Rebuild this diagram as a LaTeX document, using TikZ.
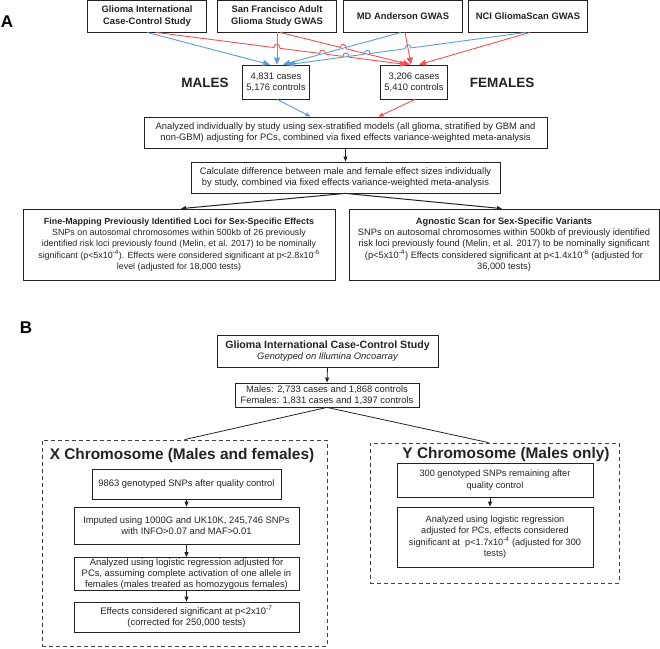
\documentclass[tikz,border=0pt]{standalone}
\usepackage{fontspec}
\setmainfont{Liberation Sans}
\usetikzlibrary{arrows.meta,calc}
\definecolor{mblue}{RGB}{94,156,214}
\definecolor{fred}{RGB}{240,84,84}
\definecolor{ink}{RGB}{35,35,35}
\begin{document}
\begin{tikzpicture}[x=1pt,y=-1pt,
box/.style={draw=ink,line width=0.8pt,inner sep=0pt,align=center,text=ink,font=\fontsize{9.4}{11}\selectfont},
srcbox/.style={box,minimum width=119pt,minimum height=32pt,font=\fontsize{9.4}{11.5}\selectfont\bfseries},
dashbox/.style={draw=ink!85,line width=0.8pt,dash pattern=on 4pt off 3pt,inner sep=0pt},
bigtxt/.style={text=ink,font=\fontsize{13.5}{14}\selectfont\bfseries},
chrtxt/.style={text=ink,font=\fontsize{15.4}{16}\selectfont\bfseries},
panel/.style={text=black,font=\fontsize{17}{18}\selectfont\bfseries},
bline/.style={mblue,line width=0.9pt},
rline/.style={fred,line width=0.9pt},
ctip/.style={-{Triangle[length=7pt,width=6pt]}},
stip/.style={-{Triangle[length=5pt,width=4pt]}},
ktip/.style={ink,line width=0.8pt,-{Triangle[length=5pt,width=4pt]}}]
\useasboundingbox (0,0) rectangle (660,648);
\def\khop{5}
% panel A
\node[panel] (pa) at (7,22) {A};
\foreach \n/\x/\t in {gicc/147/{Glioma International\\Case-Control Study},sfag/277/{San Francisco Adult\\Glioma Study GWAS},mda/403/{MD Anderson GWAS},nci/528/{NCI GliomaScan GWAS}}{\node[srcbox] (\n) at (\x,16) {\t};}
\node[box,minimum width=67pt,minimum height=34pt] (mal) at (276,82) {4,831 cases\\5,176 controls};
\node[box,minimum width=67pt,minimum height=34pt] (fem) at (414,82) {3,206 cases\\5,410 controls};
\node[bigtxt] (mtxt) at (205,83) {MALES};
\node[bigtxt] (ftxt) at (502,83) {FEMALES};
\coordinate (b4s) at ([xshift=-2pt]nci.south);\coordinate (b4e) at ([xshift=12pt]mal.north);
\coordinate (r1s) at ([xshift=9pt]gicc.south);\coordinate (r1e) at ([xshift=-7pt]fem.north);
\coordinate (r2s) at ([xshift=3pt]sfag.south);\coordinate (r2e) at ([xshift=-4pt]fem.north);
\draw[bline,ctip](gicc.south)--([xshift=-6pt]mal.north);
\draw[bline,ctip](sfag.south)--([xshift=1pt]mal.north);
\draw[bline,ctip]([xshift=-2pt]mda.south)--([xshift=7pt]mal.north);
\draw[rline,ctip]([xshift=2pt]mda.south)--([xshift=-3pt]fem.north);
\draw[rline,ctip]([xshift=2pt]nci.south)--([xshift=5pt]fem.north);
\draw[rline,ctip](r1s)--($(r1s)!0.470!(r1e)$) .. controls +(0,-\khop) and +(0,-\khop) .. ($(r1s)!0.494!(r1e)$)--($(r1s)!0.652!(r1e)$) .. controls +(0,-\khop) and +(0,-\khop) .. ($(r1s)!0.676!(r1e)$)--($(r1s)!0.745!(r1e)$) .. controls +(0,-\khop) and +(0,-\khop) .. ($(r1s)!0.769!(r1e)$)--(r1e);
\draw[rline,ctip](r2s)--($(r2s)!0.466!(r2e)$) .. controls +(0,-\khop) and +(0,-\khop) .. ($(r2s)!0.510!(r2e)$)--(r2e);
\draw[bline,ctip](b4s)--($(b4s)!0.484!(b4e)$) .. controls +(0,-\khop) and +(0,-\khop) .. ($(b4s)!0.508!(b4e)$)--($(b4s)!0.656!(b4e)$) .. controls +(0,-\khop) and +(0,-\khop) .. ($(b4s)!0.680!(b4e)$)--(b4e);
\node[box,minimum width=403pt,minimum height=31pt] (anl) at (345.5,132.5) {Analyzed individually by study using sex-stratified models (all glioma, stratified by GBM and\\non-GBM) adjusting for PCs, combined via fixed effects variance-weighted meta-analysis};
\draw[bline,stip]([xshift=1pt]mal.south)--([xshift=-35pt]anl.north);
\draw[rline,stip]([xshift=1pt]fem.south)--([xshift=33pt]anl.north);
\node[box,minimum width=309pt,minimum height=31pt] (clc) at (345.5,177.5) {Calculate difference between male and female effect sizes individually\\by study, combined via fixed effects variance-weighted meta-analysis};
\draw[ktip](anl.south)--(clc.north);
\node[box,minimum width=312pt,minimum height=71pt,font=\fontsize{8.9}{11.3}\selectfont] (fmap) at (179,244.5) {\textbf{Fine-Mapping Previously Identified Loci for Sex-Specific Effects}\\SNPs on autosomal chromosomes within 500kb of 26 previously\\identified risk loci previously found (Melin, et al. 2017) to be nominally\\significant (p<5x10\textsuperscript{-4}). Effects were considered significant at p<2.8x10\textsuperscript{-6}\\level (adjusted for 18,000 tests)};
\node[box,minimum width=310pt,minimum height=71pt,font=\fontsize{9.3}{11.3}\selectfont] (agn) at (504,244.5) {\textbf{Agnostic Scan for Sex-Specific Variants}\\SNPs on autosomal chromosomes within 500kb of previously identified\\risk loci previously found (Melin, et al. 2017) to be nominally significant\\(p<5x10\textsuperscript{-4}) Effects considered significant at p<1.4x10\textsuperscript{-6} (adjusted for\\36,000 tests)};
\draw[ktip,line width=1pt](clc.south)--([xshift=2pt]fmap.north);
\draw[ktip,line width=1pt](clc.south)--([xshift=-2pt]agn.north);
% panel B
\node[panel] (pb) at (26,328) {B};
\node[box,minimum width=221pt,minimum height=32pt] (gicb) at (327.5,351) {{\fontsize{10.6}{12}\selectfont\bfseries Glioma International Case-Control Study}\\{\itshape Genotyped on Illumina Oncoarray}};
\node[box,minimum width=184pt,minimum height=24pt] (smp) at (327,395) {Males: 2,733 cases and 1,868 controls\\Females: 1,831 cases and 1,397 controls};
\draw[ktip](gicb.south)--(smp.north);
\node[dashbox,minimum width=285pt,minimum height=206pt] (xbox) at (184.5,543) {};
\node[dashbox,minimum width=249pt,minimum height=140pt] (ybox) at (494.5,513) {};
\draw[ink,line width=0.8pt](smp.south)--(xbox.north);
\draw[ink,line width=0.8pt](smp.south)--([xshift=-6pt]ybox.north);
\node[chrtxt] (xttl) at (182,456) {X Chromosome (Males and females)};
\node[chrtxt] (yttl) at (506,455) {Y Chromosome (Males only)};
\begin{scope}[every node/.append style={font=\fontsize{9.7}{11.5}\selectfont}]
\node[box,minimum width=189pt,minimum height=30pt] (x1) at (186.5,484) {9863 genotyped SNPs after quality control};
\node[box,minimum width=225pt,minimum height=37pt] (x2) at (186.5,525.5) {Imputed using 1000G and UK10K, 245,746 SNPs\\with INFO>0.07 and MAF>0.01};
\node[box,minimum width=225pt,minimum height=33pt] (x3) at (186.5,574) {Analyzed using logistic regression adjusted for\\PCs, assuming complete activation of one allele in\\females (males treated as homozygous females)};
\node[box,minimum width=225pt,minimum height=30pt] (x4) at (186.5,617) {Effects considered significant at p<2x10\textsuperscript{-7}\\(corrected for 250,000 tests)};
\end{scope}
\foreach \a/\b in {x1/x2,x2/x3,x3/x4}{\draw[ktip](\a.south)--(\b.north);}
\node[box,minimum width=196pt,minimum height=34pt,font=\fontsize{9.2}{11.5}\selectfont] (y1) at (495,480) {300 genotyped SNPs remaining after\\quality control};
\node[box,minimum width=196pt,minimum height=60pt,font=\fontsize{9.2}{11.5}\selectfont] (y2) at (495,537) {Analyzed using logistic regression\\adjusted for PCs, effects considered\\significant at \ p<1.7x10\textsuperscript{-4} (adjusted for 300\\tests)};
\draw[ktip]([xshift=-5pt]y1.south)--([xshift=-5pt]y2.north);
\end{tikzpicture}
\end{document}
